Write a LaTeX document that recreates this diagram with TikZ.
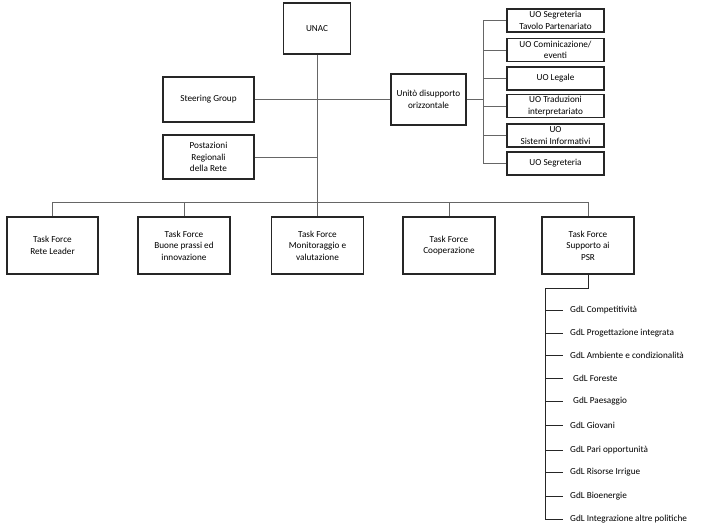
\documentclass[tikz,border=0pt]{standalone}
\usepackage{fontspec}
\setmainfont{Carlito}
\tikzset{
  box/.style={draw=black!85, line width=1.3pt, align=center, inner sep=1pt, font=\fontsize{9.2}{11.5}\selectfont},
  conn/.style={draw=black!60, line width=0.8pt},
  gdl/.style={anchor=west, inner sep=0pt, font=\fontsize{9.2}{11.5}\selectfont}
}
\begin{document}
\begin{tikzpicture}[x=1pt,y=-1pt]
\useasboundingbox[fill=white] (0,0) rectangle (702,530);
% top
\node[box, minimum width=67, minimum height=51] (unac) at (317,28.5) {UNAC};
\node[box, minimum width=91, minimum height=45] (steer) at (208.5,99.5) {Steering Group};
\node[box, minimum width=91, minimum height=44] (post) at (208.5,157) {Postazioni\\Regionali\\della Rete};
\node[box, minimum width=75, minimum height=51] (unita) at (428.5,99.5) {Unitò disupporto\\orizzontale};
% UO
\node[box, minimum width=97, minimum height=23] (uo1) at (555.5,20.5) {UO Segreteria\\Tavolo Partenariato};
\node[box, minimum width=97, minimum height=23] (uo2) at (555.5,50) {UO Cominicazione/\\eventi};
\node[box, minimum width=97, minimum height=23] (uo3) at (555.5,78.5) {UO Legale};
\node[box, minimum width=97, minimum height=23] (uo4) at (555.5,106) {UO Traduzioni\\interpretariato};
\node[box, minimum width=97, minimum height=23] (uo5) at (555.5,135.5) {UO\\Sistemi Informativi};
\node[box, minimum width=97, minimum height=23] (uo6) at (555.5,163.5) {UO Segreteria};
% Task forces
\node[box, minimum width=91, minimum height=57] (tf1) at (52.5,245.5) {Task Force\\Rete Leader};
\node[box, minimum width=92, minimum height=57] (tf2) at (184,245.5) {Task Force\\Buone prassi ed\\innovazione};
\node[box, minimum width=92, minimum height=57] (tf3) at (317.5,245.5) {Task Force\\Monitoraggio e\\valutazione};
\node[box, minimum width=92, minimum height=57] (tf4) at (449,245.5) {Task Force\\Cooperazione};
\node[box, minimum width=92, minimum height=57] (tf5) at (588,245.5) {Task Force\\Supporto ai\\PSR};
% GdL
\node[gdl] (g1) at (570,310) {GdL Competitività};
\node[gdl] (g2) at (570,333) {GdL Progettazione  integrata};
\node[gdl] (g3) at (570,355) {GdL Ambiente e condizionalità};
\node[gdl] (g4) at (573,378) {GdL Foreste};
\node[gdl] (g5) at (573,401) {GdL Paesaggio};
\node[gdl] (g6) at (570,425) {GdL Giovani};
\node[gdl] (g7) at (570,450) {GdL Pari opportunità};
\node[gdl] (g8) at (570,472) {GdL  Risorse Irrigue};
\node[gdl] (g9) at (570,496) {GdL Bioenergie};
\node[gdl] (g10) at (570,519) {GdL Integrazione  altre politiche};
% coordinates
\coordinate (bus) at (0,202);
\coordinate (uobus) at (483,0);
\coordinate (gtop) at (545,288);
% connectors
\draw[conn] (unac.south) -- (unac.south |- bus);
\draw[conn] (tf1.north) -- (tf1.north |- bus) -- (tf5.north |- bus) -- (tf5.north);
\foreach \t in {tf2,tf3,tf4} \draw[conn] (\t.north) -- (\t.north |- bus);
\draw[conn] (steer.east) -- (unita.west);
\draw[conn] (post.east) -- (post.east -| unac.south);
\draw[conn] (unita.east) -- (unita.east -| uobus);
\draw[conn] (uobus |- uo1.west) -- (uobus |- uo6.west);
\foreach \u in {uo1,uo2,uo3,uo4,uo5,uo6} \draw[conn] (uobus |- \u.west) -- (\u.west);
\draw[conn, draw=black!85, line width=1pt] (tf5.south) -- (tf5.south |- gtop) -- (gtop) -- (gtop |- g10.west);
\foreach \g in {g1,g2,g3,g4,g5,g6,g7,g8,g9,g10} \draw[conn, draw=black!85, line width=1pt] (gtop |- \g.west) -- ++(18,0);
\end{tikzpicture}
\end{document}
